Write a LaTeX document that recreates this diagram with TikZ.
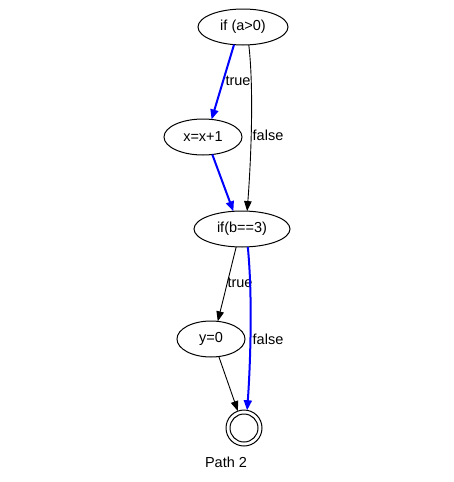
\documentclass[tikz,border=0pt]{standalone}
\usepackage{fontspec}
\setmainfont{Liberation Sans}
\usetikzlibrary{arrows.meta,shapes.geometric}
\begin{document}
\begin{tikzpicture}[x=1pt,y=-1pt,
  every node/.style={font=\fontsize{14.5}{16}\selectfont, inner sep=0pt, outer sep=0pt},
  stmt/.style={ellipse, draw, line width=1pt, minimum height=36pt},
  lbl/.style={inner sep=0pt},
  plain/.style={draw=black, line width=0.9pt, -{Triangle[length=10pt,width=7.5pt]}},
  hot/.style={draw=blue, line width=2pt, -{Triangle[length=10pt,width=8pt]}}
]
\useasboundingbox (0,0) rectangle (454,482);
\node[stmt, minimum width=90pt] (A) at (243,27) {if (a>0)};
\node[stmt, minimum width=78pt] (B) at (203,137) {x=x+1};
\node[stmt, minimum width=96pt] (C) at (242,229) {if(b==3)};
\node[stmt, minimum width=68pt] (D) at (211,339) {y=0};
\node[circle, draw, line width=1pt, minimum size=36pt] (E) at (244,428) {};
\draw[line width=1pt] (E.center) circle (14pt);
\node (P) at (226,462) {Path 2};

\draw[hot] (A.-117) -- (B.64);
\node[lbl] (t1) at (238,81) {true};
\draw[plain] (A.-72) .. controls (254,90) and (251,160) .. (C.74);
\node[lbl] (f1) at (268,135) {false};
\draw[hot] (B.-62) -- (C.116);
\draw[plain] (C.-108) -- (D.69);
\node[lbl] (t2) at (240,283) {true};
\draw[hot] (C.-72) .. controls (253,300) and (250,370) .. (E.80);
\node[lbl] (f2) at (268,339) {false};
\draw[plain] (D.-66) -- (E.110);
\end{tikzpicture}
\end{document}
